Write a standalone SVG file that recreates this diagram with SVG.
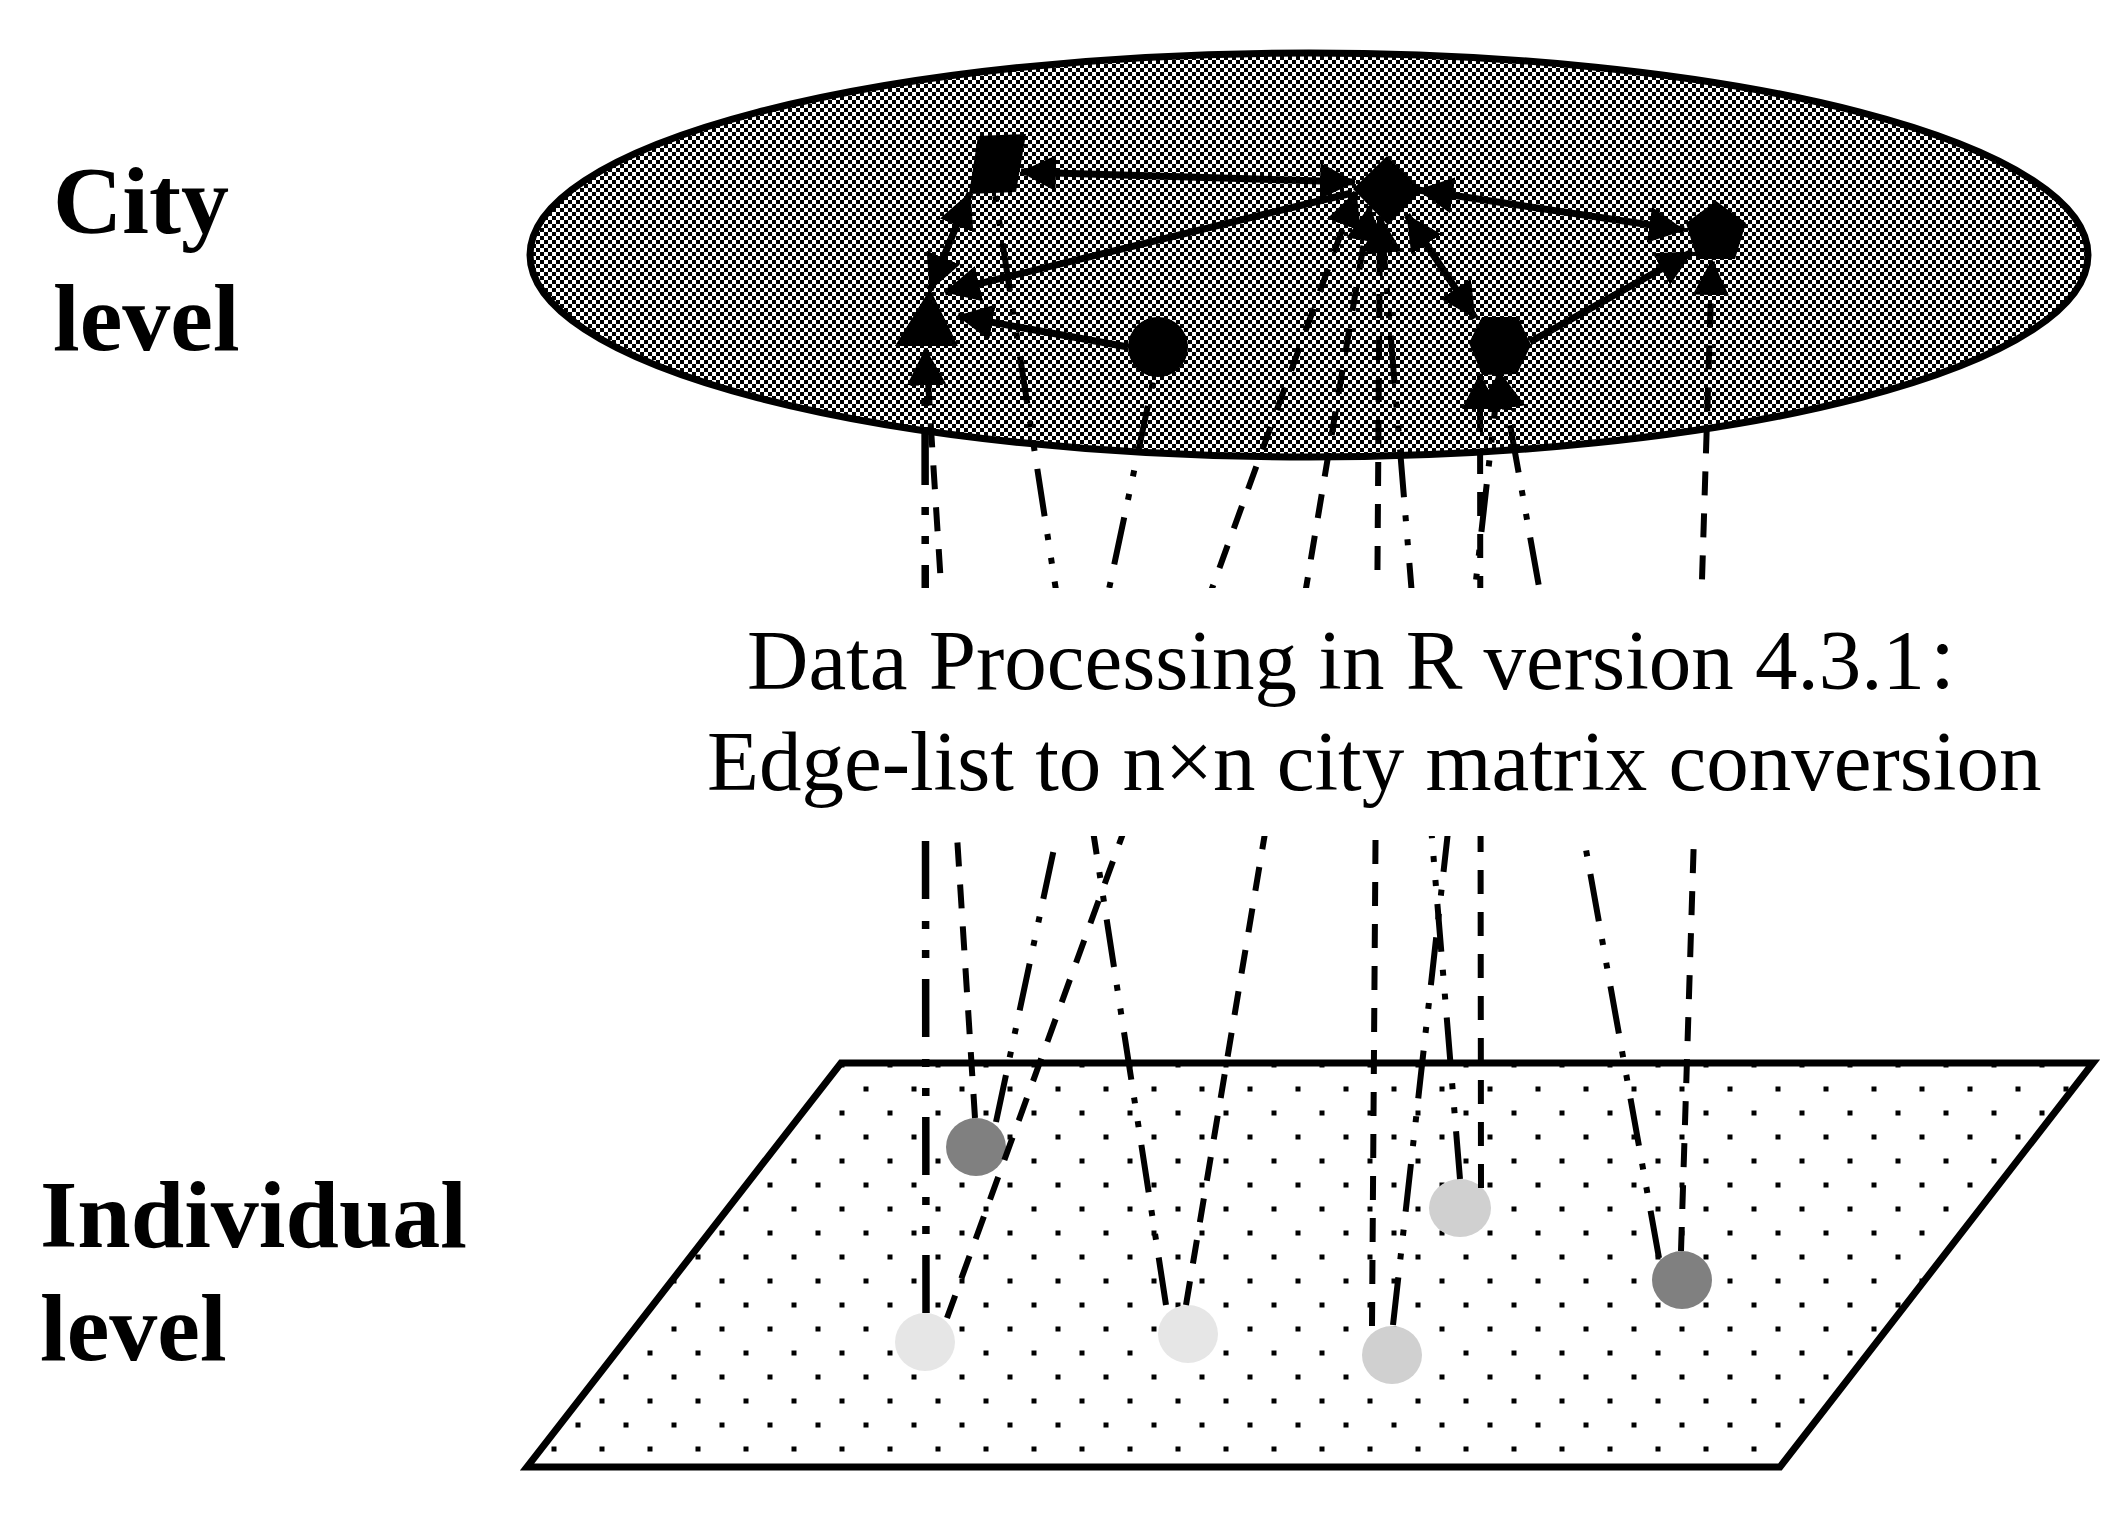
<svg xmlns="http://www.w3.org/2000/svg" width="2128" height="1520" viewBox="0 0 2128 1520">
<defs>
<style>
.lbl{font-family:"Liberation Serif","Times New Roman",serif;font-weight:bold;font-size:96px;fill:#000}
.txt{font-family:"Liberation Serif","Noto Sans CJK SC",serif;font-size:85px;fill:#000}
.dash{stroke:#000;stroke-width:6;stroke-dasharray:24 18;fill:none}
.ldd{stroke:#000;stroke-width:6;stroke-dasharray:48 18 6 18 6 18;fill:none}
.ldd2{stroke:#000;stroke-width:7.5;stroke-dasharray:58 21 8 21 8 22;fill:none}
.arr{stroke:#000;stroke-width:7;fill:none}
.cn{fill:#000}
</style>
<pattern id="checker" patternUnits="userSpaceOnUse" width="8" height="8">
<rect width="8" height="8" fill="#fff"/>
<rect width="4" height="4" fill="#000"/>
<rect x="4" y="4" width="4" height="4" fill="#000"/>
</pattern>
<pattern id="dots" patternUnits="userSpaceOnUse" x="-10" y="-3" width="48" height="48">
<rect width="48" height="48" fill="#fff"/>
<rect x="9.5" y="33.5" width="5" height="5" fill="#000"/>
<rect x="33.5" y="9.5" width="5" height="5" fill="#000"/>
</pattern>
<marker id="ah" markerUnits="userSpaceOnUse" viewBox="0 0 36 36" markerWidth="36" markerHeight="36" refX="35" refY="18" orient="auto-start-reverse">
<path d="M0,0 L36,18 L0,36 z" fill="#000"/>
</marker>
</defs>

<rect width="2128" height="1520" fill="#fff"/>

<g id="city-plane">
<ellipse cx="1309" cy="255" rx="779" ry="202" fill="url(#checker)" stroke="#000" stroke-width="7"/>
</g>
<g id="individual-plane">
<polygon points="841,1063 2093,1063 1780,1467 527,1467" fill="url(#dots)" stroke="#000" stroke-width="7"/>
</g>

<g id="individual-nodes">
<g id="ind-1"><ellipse cx="976" cy="1147" rx="30" ry="29" fill="#808080"/></g>
<g id="ind-2"><ellipse cx="925" cy="1342" rx="30" ry="29" fill="#e6e6e6"/></g>
<g id="ind-3"><ellipse cx="1188" cy="1334" rx="30" ry="29" fill="#e6e6e6"/></g>
<g id="ind-4"><ellipse cx="1392" cy="1355" rx="30" ry="29" fill="#d0d0d0"/></g>
<g id="ind-5"><ellipse cx="1460" cy="1208" rx="31" ry="29" fill="#d0d0d0"/></g>
<g id="ind-6"><ellipse cx="1682" cy="1280" rx="30" ry="29" fill="#808080"/></g>
</g>

<g id="connectors">
<line class="ldd2" x1="926" y1="1313" x2="925" y2="350" marker-end="url(#ah)"/>
<line class="dash" x1="975" y1="1118" x2="926" y2="350" marker-end="url(#ah)"/>
<line class="ldd" x1="996" y1="1122" x2="1154" y2="377"/>
<line class="dash" x1="947" y1="1318" x2="1356" y2="192" marker-end="url(#ah)"/>
<line class="ldd" x1="1166" y1="1305" x2="995" y2="194"/>
<line class="dash" x1="1186" y1="1305" x2="1370" y2="206" marker-end="url(#ah)"/>
<line class="dash" x1="1372" y1="1326" x2="1380" y2="217" marker-end="url(#ah)"/>
<line class="ldd" x1="1460" y1="1179" x2="1381" y2="218" marker-end="url(#ah)"/>
<line class="ldd" x1="1393" y1="1325" x2="1499" y2="374" marker-end="url(#ah)"/>
<line class="dash" x1="1481" y1="1188" x2="1480" y2="374" marker-end="url(#ah)"/>
<line class="ldd" x1="1659" y1="1258" x2="1501" y2="374" marker-end="url(#ah)"/>
<line class="dash" x1="1681" y1="1251" x2="1712" y2="260" marker-end="url(#ah)"/>
<line class="arr" x1="1021" y1="172" x2="1355" y2="182" marker-start="url(#ah)" marker-end="url(#ah)"/>
<line class="arr" x1="1352" y1="193" x2="945" y2="292" marker-end="url(#ah)"/>
<line class="arr" x1="1128" y1="347" x2="958" y2="316" marker-end="url(#ah)"/>
<line class="arr" x1="970" y1="193" x2="930" y2="290" marker-start="url(#ah)" marker-end="url(#ah)"/>
<line class="arr" x1="1407" y1="215" x2="1475" y2="318" marker-start="url(#ah)" marker-end="url(#ah)"/>
<line class="arr" x1="1418" y1="190" x2="1684" y2="230" marker-start="url(#ah)" marker-end="url(#ah)"/>
<line class="arr" x1="1530" y1="342" x2="1692" y2="252" marker-end="url(#ah)"/>
</g>

<g id="city-nodes">
<g id="city-square"><polygon class="cn" points="978,136 1026,134 1016,192 969,194"/></g>
<g id="city-diamond"><polygon class="cn" points="1387,156 1422,190 1388,225 1353,189"/></g>
<g id="city-pentagon"><polygon class="cn" points="1716,201 1746,223 1735,259 1697,259 1686,223"/></g>
<g id="city-hexagon"><polygon class="cn" points="1482,317 1518,317 1531,345 1517,374 1482,375 1469,343"/></g>
<g id="city-circle"><circle class="cn" cx="1158" cy="347" r="30"/></g>
<g id="city-triangle"><polygon class="cn" points="930,289 958,346 895,346"/></g>
</g>

<g id="label">
<rect x="700" y="588" width="1360" height="248" fill="#fff"/>
<text class="txt" x="747" y="689">Data Processing in R version 4.3.1<tspan font-size="70">：</tspan></text>
<text class="txt" x="707" y="790">Edge-list to n×n city matrix conversion</text>
</g>

<g id="level-labels">
<text class="lbl" x="53" y="233">City</text>
<text class="lbl" x="53" y="350">level</text>
<text class="lbl" x="40" y="1247">Individual</text>
<text class="lbl" x="40" y="1360">level</text>
</g>
</svg>
